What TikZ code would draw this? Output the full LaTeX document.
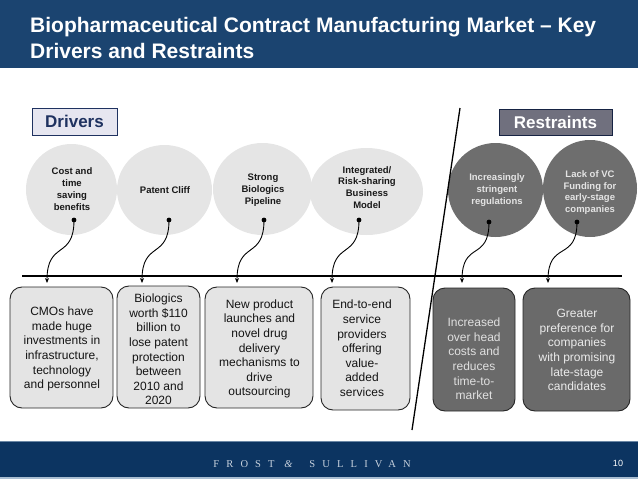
\documentclass[tikz,border=0pt]{standalone}
\usepackage{fontspec}
\setmainfont{Liberation Sans}
\newfontfamily\fsserif{Liberation Serif}
\usetikzlibrary{shapes.geometric,arrows.meta,calc}
\definecolor{hdrblue}{RGB}{27,68,112}
\definecolor{ftrblue}{RGB}{12,52,97}
\definecolor{ftrline}{RGB}{170,190,210}
\definecolor{ftrtext}{RGB}{200,210,222}
\definecolor{drvgrey}{RGB}{229,229,229}
\definecolor{drvbox}{RGB}{228,228,228}
\definecolor{resgrey}{RGB}{110,110,110}
\definecolor{resbox}{RGB}{106,106,106}
\definecolor{navy}{RGB}{31,50,96}
\definecolor{lavender}{RGB}{230,230,240}
\definecolor{restag}{RGB}{112,112,126}
\definecolor{lighttxt}{RGB}{228,228,228}
\tikzset{
  drvcirc/.style={ellipse, fill=drvgrey, inner sep=0pt},
  rescirc/.style={ellipse, fill=resgrey, inner sep=0pt},
  circtext/.style={align=center, font=\bfseries\fontsize{9.5}{11.8}\selectfont},
  drvboxst/.style={rectangle, rounded corners=12pt, draw=black!85, line width=0.9pt, fill=drvbox, inner sep=0pt},
  resboxst/.style={rectangle, rounded corners=12pt, draw=black!85, line width=0.9pt, fill=resbox, inner sep=0pt},
  boxtext/.style={align=center, font=\fontsize{12}{14.6}\selectfont},
  tagbox/.style={rectangle, line width=1pt, inner sep=0pt, font=\bfseries\fontsize{17}{20}\selectfont},
  link/.style={line width=0.9pt, -{Stealth[length=5pt,width=4pt]}},
  dotst/.style={circle, fill=black, inner sep=0pt, minimum size=4.8pt}
}
\begin{document}
\begin{tikzpicture}[x=1pt,y=-1pt]
\useasboundingbox (0,0) rectangle (638,479);
% header
\fill[hdrblue] (0,0) rectangle (638,68);
\node[anchor=base west, align=left, text=white, inner sep=0pt,
      font=\bfseries\fontsize{21}{26}\selectfont] (title) at (30,58)
  {Biopharmaceutical Contract Manufacturing Market – Key\\Drivers and Restraints};
% footer
\fill[ftrblue] (0,441) rectangle (638,477);
\fill[ftrline] (0,476.5) rectangle (638,479);
\draw[ftrline!60!ftrblue, line width=0.8pt] (0,441.4) -- (638,441.4);
\node[text=ftrtext, inner sep=0pt, anchor=base,
      font=\fsserif\fontsize{10.5}{12}\selectfont\addfontfeatures{LetterSpace=68}] (brand) at (312,467)
  {FROST \textit{\&} SULLIVAN};
\node[text=white, inner sep=0pt, anchor=base, font=\fontsize{9}{10}\selectfont] (pagenum) at (618,466.5) {10};
% tags
\node[tagbox, draw=navy, fill=lavender, text=navy, minimum width=85pt, minimum height=27pt] (drivers) at (74.5,121.5) {Drivers};
\node[tagbox, draw=navy!70!black, fill=restag, text=white, minimum width=113pt, minimum height=26pt] (restraints) at (555.5,122) {Restraints};
% circles
\node[drvcirc, minimum width=91pt, minimum height=91pt] (c1) at (71.5,189.5) {};
\node[drvcirc, minimum width=95pt, minimum height=90pt] (c2) at (164.5,190) {};
\node[drvcirc, minimum width=99pt, minimum height=92pt] (c3) at (262.5,189) {};
\node[drvcirc, minimum width=113pt, minimum height=87pt] (c4) at (366.5,191.5) {};
\node[rescirc, minimum width=95pt, minimum height=94pt] (c5) at (495.5,190) {};
\node[rescirc, minimum width=94pt, minimum height=97pt] (c6) at (590,188.5) {};
\node[circtext, text=black!90] (ct1) at (72,189) {Cost and\\time\\saving\\benefits};
\node[circtext, text=black!90] (ct2) at (165,190) {Patent Cliff};
\node[circtext, text=black!90] (ct3) at (263,190) {Strong\\Biologics\\Pipeline};
\node[circtext, text=black!90] (ct4) at (367,187.5) {Integrated/\\Risk-sharing\\Business\\Model};
\node[circtext, text=lighttxt] (ct5) at (497,190) {Increasingly\\stringent\\regulations};
\node[circtext, text=lighttxt] (ct6) at (590,192.5) {Lack of VC\\Funding for\\early-stage\\companies};
% lines
\coordinate (hl1) at (22,276);
\coordinate (hl2) at (622,276);
\draw[line width=1.4pt] (hl1) -- (hl2);
\coordinate (dl1) at (460,108);
\coordinate (dl2) at (412,430);
\draw[line width=1.3pt] (dl1) -- (dl2);
% boxes
\node[drvboxst, minimum width=103pt, minimum height=121pt] (b1) at (61.5,347.5) {};
\node[drvboxst, minimum width=83pt, minimum height=122pt] (b2) at (158.5,347) {};
\node[drvboxst, minimum width=108pt, minimum height=121pt] (b3) at (259,347.5) {};
\node[drvboxst, minimum width=89pt, minimum height=123pt] (b4) at (365.5,348.5) {};
\node[resboxst, minimum width=82pt, minimum height=123pt] (b5) at (474,349.5) {};
\node[resboxst, minimum width=107pt, minimum height=123pt] (b6) at (576.5,349.5) {};
\node[boxtext, text=black!92] (t1) at (62,349) {CMOs have\\made huge\\investments in\\infrastructure,\\technology\\and personnel};
\node[boxtext, text=black!92] (t2) at (158.5,349.5) {Biologics\\worth \$110\\billion to\\lose patent\\protection\\between\\2010 and\\2020};
\node[boxtext, text=black!92] (t3) at (259.5,349) {New product\\launches and\\novel drug\\delivery\\mechanisms to\\drive\\outsourcing};
\node[boxtext, text=black!92] (t4) at (362,348.5) {End-to-end\\service\\providers\\offering\\value-\\added\\services};
\node[boxtext, text=black!12] (t5) at (474,359) {Increased\\over head\\costs and\\reduces\\time-to-\\market};
\node[boxtext, text=black!8] (t6) at (577,350) {Greater\\preference for\\companies\\with promising\\late-stage\\candidates};
% connectors
\node[dotst] (d1) at (74,220) {};
\node[dotst] (d2) at (169,220) {};
\node[dotst] (d3) at (264,220) {};
\node[dotst] (d4) at (359,220) {};
\node[dotst] (d5) at (489,222) {};
\node[dotst] (d6) at (577,222) {};
\coordinate (e1) at (47,283);
\coordinate (e2) at (142,283);
\coordinate (e3) at (237,283);
\coordinate (e4) at (332,283);
\coordinate (e5) at (462,283);
\coordinate (e6) at (548,283);
\foreach \i in {1,...,6}{
  \draw[link] (d\i.center) .. controls ($(d\i.center)+(0,40)$) and ($(e\i)+(0,-43)$) .. (e\i);
}
\end{tikzpicture}
\end{document}
